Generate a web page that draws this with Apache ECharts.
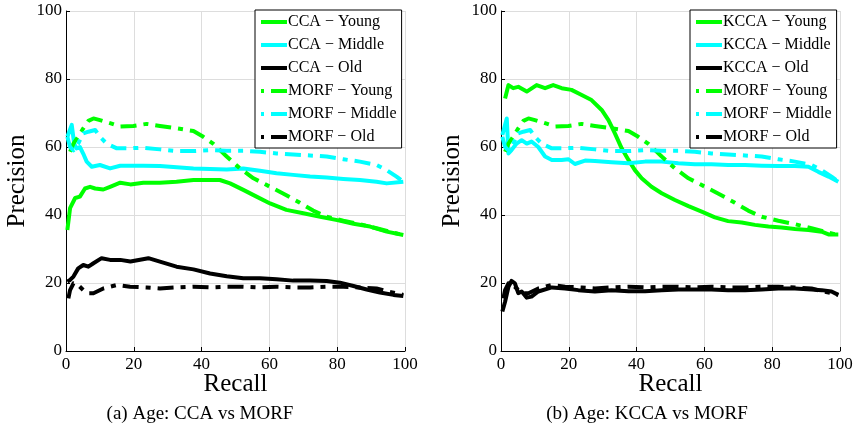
<!DOCTYPE html>
<html>
<head>
<meta charset="utf-8">
<script src="https://cdn.jsdelivr.net/npm/echarts@6/dist/echarts.min.js"></script>
<style>
  html, body { margin: 0; padding: 0; background: #fff; }
  #chart { width: 858px; height: 437px; }
</style>
</head>
<body>
<div id="chart"></div>
<script>
// Precision-recall curves per age group, [recall, precision] pairs (%)
const ccaYoung = [[0.4,35.6],[1.2,42],[2.7,45],[4.1,45.4],[5.6,47.8],[7.1,48.3],[8.6,47.8],[11,47.5],[13,48.3],[16,49.5],[19,49],[22.8,49.5],[27.7,49.5],[32.6,49.8],[37.6,50.3],[42.5,50.3],[45.4,50.3],[48.4,49.3],[52.3,47.4],[56.2,45.4],[60.2,43.4],[65,41.5],[70,40.5],[75,39.5],[80,38.5],[84.8,37.4],[89.7,36.6],[94.6,35.1],[99.5,34.1]];
const ccaMiddle = [[0.4,63],[1.7,66.5],[2.4,61],[3.1,59.6],[4.1,60],[5.1,58],[6.1,55.7],[7.6,54.2],[10,54.7],[13,53.7],[16,54.5],[22.8,54.5],[27.7,54.4],[37.6,53.7],[47.4,53.4],[52.3,53.7],[57.2,53],[62.1,52.3],[67,51.8],[72,51.3],[76.9,51],[81.8,50.6],[86.7,50.3],[91.6,49.8],[94.6,49.3],[99.5,49.8]];
const ccaOld = [[0.4,20.4],[1.2,20.9],[2.2,21.9],[3.6,24.3],[5.1,25.3],[6.6,24.8],[8.1,25.8],[10.5,27.3],[13,26.8],[16,26.8],[19,26.3],[24.3,27.3],[27.7,26.3],[32.6,24.8],[37.6,24],[42.5,22.8],[47.4,22],[52.3,21.4],[57.2,21.4],[62.1,21.1],[67,20.7],[72,20.7],[76.9,20.6],[80.8,20.1],[84.8,19.1],[88.7,18.1],[92.6,17.2],[96.6,16.5],[99.5,16.2]];

const kccaYoung = [[1.2,74.3],[2.2,78.2],[3.6,77.3],[5.1,77.7],[7.6,76.3],[10.5,78.2],[13,77.3],[15.4,78.2],[17.9,77.3],[20.8,76.8],[23.8,75.3],[26.7,73.8],[29.7,70.9],[31.7,67.9],[33.6,64],[35.6,59.6],[37.6,56.2],[39.5,53.2],[41.5,50.8],[44.4,48.3],[47.4,46.4],[51.3,44.4],[55.3,42.6],[59.2,41],[63.1,39.3],[67,38.2],[71,37.8],[74.9,37.1],[78.9,36.6],[82.8,36.3],[86.7,35.9],[90.7,35.6],[94.6,35.1],[96.6,34.3],[99.5,34.3]];
const kccaMiddle = [[0.4,63.5],[1.7,68.4],[2.2,58.1],[3.1,59.1],[4.6,61],[6.1,62],[7.6,61],[9,61.6],[11,60],[13,57.2],[15,56.2],[17.9,56.2],[19.9,56.4],[21.8,55],[24.8,56],[27.7,55.9],[32.6,55.5],[37.6,55.2],[42.5,55.7],[47.4,55.7],[52.3,55.2],[57.2,54.9],[62.1,54.9],[67,54.7],[72,54.7],[76.9,54.5],[81.8,54.4],[86.7,54.4],[90.7,54.2],[93.6,52.7],[96.6,51.3],[99.5,49.8]];
const kccaOld = [[0.4,11.6],[1.2,14.5],[2.2,18.9],[3.1,20.6],[4.1,19.9],[5.1,17],[6.1,17.5],[7.6,15.7],[9,16],[11,17.5],[15,18.7],[18.9,18.4],[22.8,17.9],[27.7,17.5],[32.6,17.9],[37.6,17.6],[42.5,17.6],[47.4,17.9],[52.3,18.1],[57.2,18.1],[62.1,18.1],[67,17.9],[72,17.9],[76.9,18.1],[81.8,18.4],[86.7,18.4],[91.6,18.1],[94.6,17.9],[97.5,17.5],[99.5,16.5]];

const morfYoung = [[1.2,58.6],[2.2,61],[3.6,63],[5.1,65.5],[6.6,67.7],[8.1,68.4],[10,67.9],[13,67],[16,66],[19.9,66.2],[23.8,66.8],[27.7,66.2],[32.6,65.5],[37.6,64.7],[40.5,63],[43.5,60.9],[47.4,57.2],[51.3,53.7],[55.3,50.8],[60.2,48.3],[65,45.8],[69,43.6],[72.9,41.3],[76.9,39.5],[81.8,38.3],[86.7,37.3],[91.6,36.1],[96.6,34.8],[99.5,34.1]];
const morfMiddle = [[0.4,63],[1.2,60],[2.2,59],[3.6,61],[5.1,64],[6.6,64.5],[8.6,65],[10,63],[12,61],[15,59.6],[17.9,59.6],[22.8,59.8],[27.7,59.3],[32.6,58.8],[37.6,58.8],[42.5,59.1],[47.4,58.9],[52.3,58.9],[57.2,58.6],[62.1,58.1],[67,57.8],[72,57.5],[76.9,57.2],[81.8,56.4],[86.7,55.7],[91.6,54.7],[94.6,53.2],[97.5,51.3],[99.5,49.8]];
const morfOld = [[0.7,15.5],[1.2,17.9],[2.2,19.9],[3.6,19.4],[5.1,17.9],[6.6,17],[8.1,17],[11,18.4],[15,19.4],[18.9,18.9],[23.8,18.7],[27.7,18.4],[32.6,18.7],[37.6,18.9],[42.5,18.7],[47.4,18.9],[52.3,18.9],[57.2,18.7],[62.1,18.9],[67,18.7],[72,18.7],[76.9,18.9],[81.8,18.9],[86.7,18.7],[91.6,18.4],[94.6,17.6],[97.5,17],[99.5,16.5]];

const axisTicks = [0, 20, 40, 60, 80, 100];
const leftNames = ['CCA \u2212 Young', 'CCA \u2212 Middle', 'CCA \u2212 Old', 'MORF \u2212 Young', 'MORF \u2212 Middle', 'MORF \u2212 Old'];
const rightNames = ['KCCA \u2212 Young', 'KCCA \u2212 Middle', 'KCCA \u2212 Old', 'MORF \u2212 Young', 'MORF \u2212 Middle', 'MORF \u2212 Old'];
const captions = ['(a) Age: CCA vs MORF', '(b) Age: KCCA vs MORF'];

const SERIF = '"Liberation Serif", "Times New Roman", Times, serif';
const GREEN = '#00ff00', CYAN = '#00ffff', BLACK = '#000000';
const DASHDOT = [16, 7, 5, 7];

const chart = echarts.init(document.getElementById('chart'), null, { renderer: 'canvas' });

const gridLefts = [66, 501];
const plotW = 339;

function xAxisFor(i) {
  return {
    type: 'value', gridIndex: i, min: axisTicks[0], max: axisTicks[axisTicks.length - 1], interval: 20,
    name: 'Recall', nameLocation: 'middle', nameGap: 21, nameMoveOverlap: false,
    nameTextStyle: { fontFamily: SERIF, fontSize: 25, color: '#000' },
    axisLine: { show: true, onZero: false, lineStyle: { color: '#000', width: 1 } },
    axisTick: { show: true, inside: true, length: 4, lineStyle: { color: '#000' } },
    axisLabel: { fontFamily: SERIF, fontSize: 17, color: '#000', margin: 5 },
    splitLine: { show: true, lineStyle: { color: '#dddddd', width: 1 } }
  };
}
function yAxisFor(i) {
  return {
    type: 'value', gridIndex: i, min: axisTicks[0], max: axisTicks[axisTicks.length - 1], interval: 20,
    name: 'Precision', nameLocation: 'middle', nameGap: 36, nameRotate: 90, nameMoveOverlap: false,
    nameTextStyle: { fontFamily: SERIF, fontSize: 25, color: '#000' },
    axisLine: { show: true, onZero: false, lineStyle: { color: '#000', width: 1 } },
    axisTick: { show: true, inside: true, length: 4, lineStyle: { color: '#000' } },
    axisLabel: { fontFamily: SERIF, fontSize: 17, color: '#000', margin: 4 },
    splitLine: { show: true, lineStyle: { color: '#dddddd', width: 1 } }
  };
}

function line(name, data, color, dashed, idx) {
  return {
    name: name, type: 'line', data: data, xAxisIndex: idx, yAxisIndex: idx,
    symbol: 'none', smooth: false, animation: false, clip: true,
    lineStyle: { color: color, width: 4, type: dashed ? DASHDOT : 'solid', cap: 'butt', join: 'round' },
    itemStyle: { color: color }
  };
}

function legendFor(i, names) {
  return {
    orient: 'vertical', left: gridLefts[i] + 189, top: 10,
    data: names, itemWidth: 26, itemHeight: 14, itemGap: 7,
    itemStyle: { opacity: 0 },
    // legend samples start on the dot of the dash-dot pattern
    lineStyle: { width: 4, dashOffset: 25 },
    backgroundColor: '#ffffff', borderColor: '#000', borderWidth: 1, borderRadius: 0,
    padding: [4, 5, 3, 4],
    textStyle: { fontFamily: SERIF, fontSize: 16, color: '#000', padding: [0, 0, 0, -4] },
    selectedMode: false
  };
}

const option = {
  backgroundColor: '#ffffff',
  animation: false,
  grid: gridLefts.map(l => ({ left: l, width: plotW, top: 11, height: 340, containLabel: false })),
  xAxis: [xAxisFor(0), xAxisFor(1)],
  yAxis: [yAxisFor(0), yAxisFor(1)],
  legend: [legendFor(0, leftNames), legendFor(1, rightNames)],
  series: [
    line(leftNames[0], ccaYoung, GREEN, false, 0),
    line(leftNames[1], ccaMiddle, CYAN, false, 0),
    line(leftNames[2], ccaOld, BLACK, false, 0),
    line(leftNames[3], morfYoung, GREEN, true, 0),
    line(leftNames[4], morfMiddle, CYAN, true, 0),
    line(leftNames[5], morfOld, BLACK, true, 0),
    line(rightNames[0], kccaYoung, GREEN, false, 1),
    line(rightNames[1], kccaMiddle, CYAN, false, 1),
    line(rightNames[2], kccaOld, BLACK, false, 1),
    line(rightNames[3], morfYoung, GREEN, true, 1),
    line(rightNames[4], morfMiddle, CYAN, true, 1),
    line(rightNames[5], morfOld, BLACK, true, 1)
  ],
  graphic: [
    { type: 'text', x: 200, y: 414, style: { text: captions[0], font: '19px ' + SERIF, fill: '#000', textAlign: 'center', textVerticalAlign: 'middle' } },
    { type: 'text', x: 647, y: 414, style: { text: captions[1], font: '19px ' + SERIF, fill: '#000', textAlign: 'center', textVerticalAlign: 'middle' } }
  ]
};

chart.setOption(option);
</script>
</body>
</html>
